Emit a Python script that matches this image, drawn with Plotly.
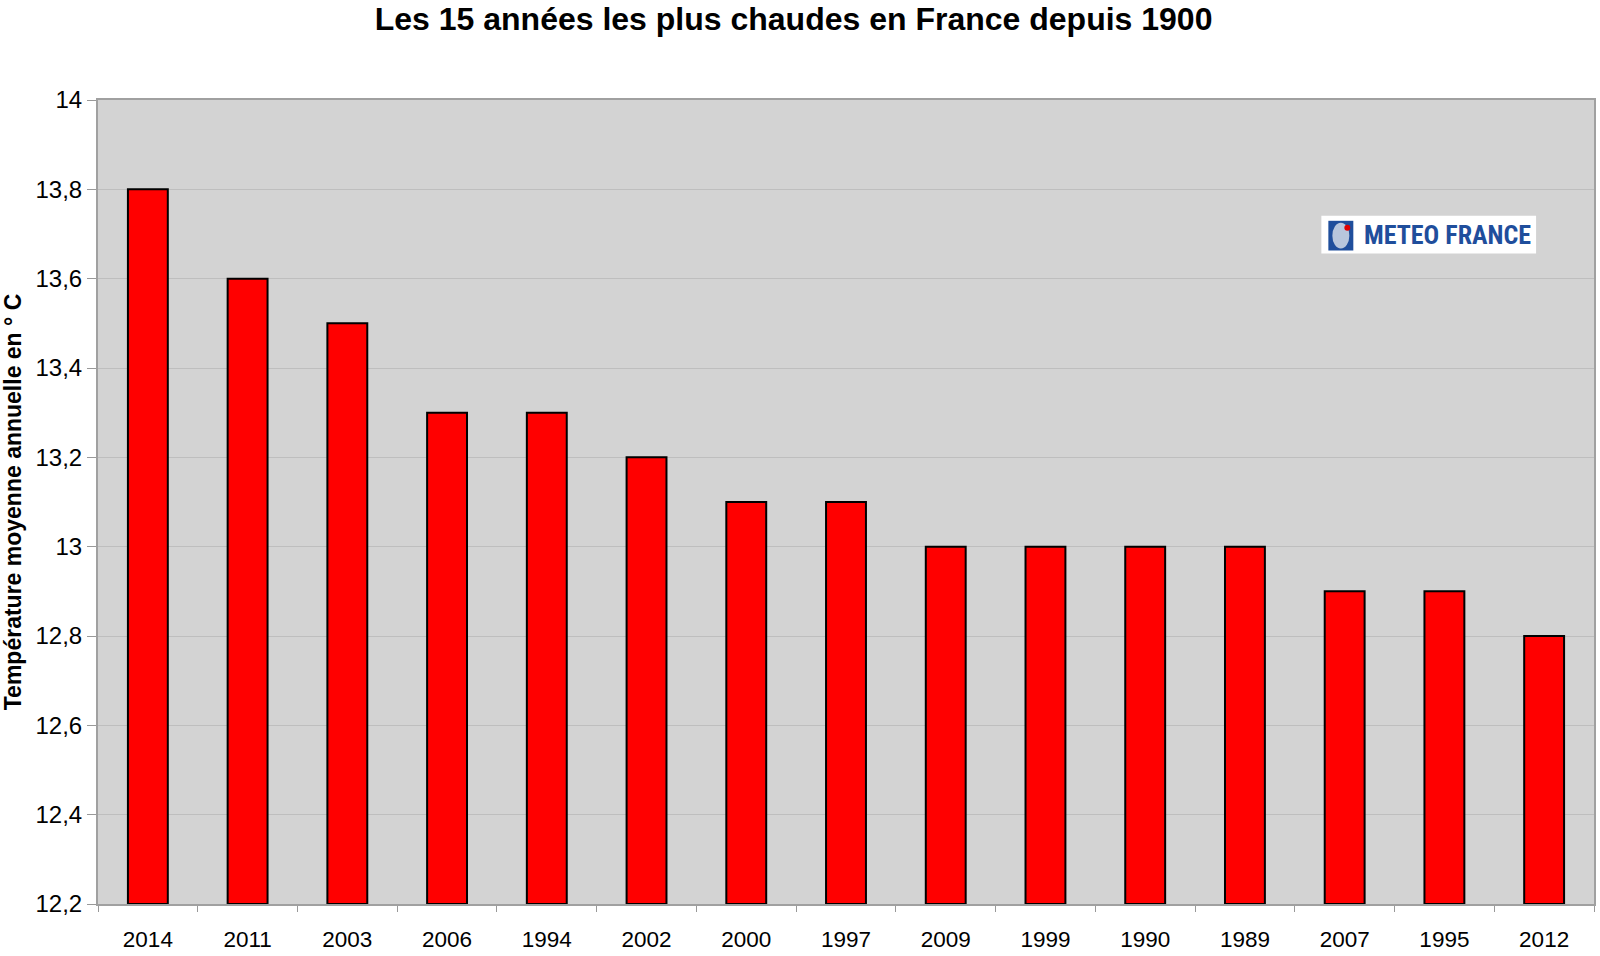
import plotly.graph_objects as go

years = ["2014", "2011", "2003", "2006", "1994", "2002", "2000", "1997",
         "2009", "1999", "1990", "1989", "2007", "1995", "2012"]
temps = [13.8, 13.6, 13.5, 13.3, 13.3, 13.2, 13.1, 13.1,
         13.0, 13.0, 13.0, 13.0, 12.9, 12.9, 12.8]
ytick_vals = [12.2, 12.4, 12.6, 12.8, 13.0, 13.2, 13.4, 13.6, 13.8, 14.0]
ytick_text = ["12,2", "12,4", "12,6", "12,8", "13", "13,2", "13,4", "13,6", "13,8", "14"]
y_min = 12.2

# plot area in pixels
L, R, T, B = 98, 1596, 100, 912
W, H = 1600, 956


def px(x):
    return (x - L) / (R - L)


def py(y):
    return (B - y) / (B - T)


fig = go.Figure(go.Bar(
    x=years, y=[t - y_min for t in temps], base=y_min,
    marker=dict(color="#FF0000", line=dict(color="black", width=2)),
    width=0.40,
))

fig.update_layout(
    width=W, height=H,
    margin=dict(l=L, r=W - R, t=T, b=H - B),
    paper_bgcolor="white",
    plot_bgcolor="#D3D3D3",
    font=dict(family="Liberation Sans, Arial", color="black"),
    title=dict(text="<b>Les 15 années les plus chaudes en France depuis 1900</b>",
               x=0.496, xanchor="center", y=1 - 19 / H, yanchor="middle",
               font=dict(size=32, color="black")),
    showlegend=False,
)
fig.update_xaxes(
    type="category", tickson="boundaries", ticks="outside", ticklen=6,
    tickcolor="#999999", tickwidth=1,
    showline=True, linecolor="#A0A0A0", linewidth=2, mirror=True,
    showgrid=False, tickfont=dict(size=22.5), ticklabelstandoff=14,
)
fig.update_yaxes(
    range=[12.2, 14.0], tickvals=ytick_vals, ticktext=ytick_text,
    ticks="outside", ticklen=9, tickcolor="#999999",
    showline=True, linecolor="#A0A0A0", linewidth=2, mirror=True,
    showgrid=True, gridcolor="#BEBEBE", gridwidth=1,
    tickfont=dict(size=24), ticklabelstandoff=0,
    title=dict(text="<b>Température moyenne annuelle en ° C</b>",
               font=dict(size=23), standoff=12),
    zeroline=False,
)

# logo
fig.add_shape(type="rect", xref="paper", yref="paper",
              x0=px(1323), x1=px(1538), y0=py(255), y1=py(217),
              fillcolor="white", line=dict(width=0), layer="above")
fig.add_shape(type="rect", xref="paper", yref="paper",
              x0=px(1330), x1=px(1355), y0=py(252), y1=py(222),
              fillcolor="#1F4E9C", line=dict(width=0), layer="above")
fig.add_shape(type="circle", xref="paper", yref="paper",
              x0=px(1334), x1=px(1351), y0=py(250), y1=py(224),
              fillcolor="#B8C6DC", line=dict(width=0), layer="above")
fig.add_shape(type="circle", xref="paper", yref="paper",
              x0=px(1346), x1=px(1352), y0=py(232), y1=py(226),
              fillcolor="#E00000", line=dict(width=0), layer="above")
fig.add_annotation(xref="paper", yref="paper",
                   x=px(1449), y=py(236.5),
                   text="<b>METEO FRANCE</b>", showarrow=False,
                   font=dict(size=26, color="#1F4E9C",
                             family="Roboto Condensed, Liberation Sans Narrow, Arial Narrow, Roboto"),
                   xanchor="center", yanchor="middle")

fig.write_html("out.html",
               config={"displayModeBar": False},
               post_script="document.body.style.margin='0';document.body.style.overflow='hidden';")
